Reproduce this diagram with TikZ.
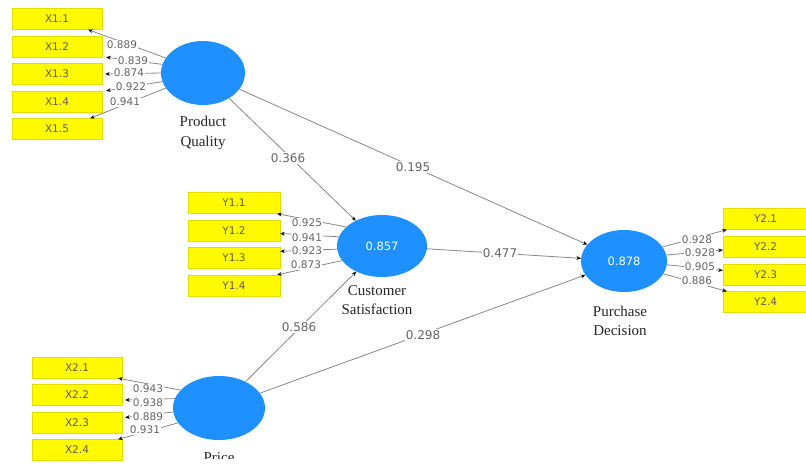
\documentclass[tikz,border=0pt]{standalone}
\usepackage{fontspec}
\setmainfont{Liberation Serif}
\newfontfamily\dv{DejaVu Sans}
\usetikzlibrary{arrows.meta,shapes.geometric}
\definecolor{lvblue}{RGB}{30,144,255}
\definecolor{ind}{RGB}{255,250,0}
\definecolor{indedge}{RGB}{228,222,0}
\definecolor{ln}{RGB}{135,135,135}
\definecolor{lbl}{RGB}{100,100,100}
\definecolor{boxtxt}{RGB}{95,95,70}
\begin{document}
\begin{tikzpicture}[x=1pt,y=-1pt,
 lv/.style={ellipse, fill=lvblue, inner sep=0pt, text=white, font=\dv\fontsize{11.5}{13}\selectfont},
 mv/.style={rectangle, fill=ind, draw=indedge, line width=0.4pt, minimum width=90pt, minimum height=21pt, inner sep=0pt, text=boxtxt, font=\dv\fontsize{10.5}{12}\selectfont},
 con/.style={draw=ln, line width=0.8pt, -{Stealth[length=4.5pt,width=3.8pt,black]}},
 ld/.style={fill=white, inner sep=0.6pt, text=lbl, font=\dv\fontsize{10.5}{12}\selectfont},
 pl/.style={fill=white, inner sep=1.2pt, text=lbl, font=\dv\fontsize{12}{14}\selectfont},
 lvname/.style={align=center, inner sep=0pt, font=\fontsize{15}{19.5}\selectfont, text=black!85}]
\useasboundingbox (0,0) rectangle (806,466);
\clip (0,0) rectangle (806,466);

% latent variables
\node[lv, minimum width=84pt, minimum height=64pt] (pq) at (203,73) {};
\node[lv, minimum width=90pt, minimum height=62pt] (cs) at (382,246) {0.857};
\node[lv, minimum width=92pt, minimum height=64pt] (pr) at (219,408) {};
\node[lv, minimum width=86pt, minimum height=62pt] (pd) at (624,261) {0.878};

\node[lvname] (pqn) at (203,133) {Product\\Quality};
\node[lvname] (csn) at (377,300) {Customer\\Satisfaction};
\node[lvname] (pdn) at (620,321) {Purchase\\Decision};
\begin{scope}
\clip (150,440) rectangle (300,458);
\node[lvname] (prn) at (219,458) {Price};
\end{scope}

% indicators
\node[mv] (x11) at (57,19) {X1.1};
\node[mv] (x12) at (57,46.5) {X1.2};
\node[mv] (x13) at (57,74) {X1.3};
\node[mv] (x14) at (57,101.5) {X1.4};
\node[mv] (x15) at (57,129) {X1.5};

\node[mv, minimum width=92pt] (y11) at (234,203) {Y1.1};
\node[mv, minimum width=92pt] (y12) at (234,230.5) {Y1.2};
\node[mv, minimum width=92pt] (y13) at (234,258) {Y1.3};
\node[mv, minimum width=92pt] (y14) at (234,285.5) {Y1.4};

\node[mv] (x21) at (77,367.5) {X2.1};
\node[mv] (x22) at (77,395) {X2.2};
\node[mv] (x23) at (77,422.5) {X2.3};
\node[mv] (x24) at (77,450) {X2.4};

\node[mv, text width=84pt, align=left] (y21) at (768,219) {\hspace{28pt}Y2.1};
\node[mv, text width=84pt, align=left] (y22) at (768,247) {\hspace{28pt}Y2.2};
\node[mv, text width=84pt, align=left] (y23) at (768,274.5) {\hspace{28pt}Y2.3};
\node[mv, text width=84pt, align=left] (y24) at (768,302) {\hspace{28pt}Y2.4};

% outer loadings
\draw[con] (pq.158) -- ([xshift=-14pt]x11.south east);
\draw[con] (pq.168) -- ([xshift=4pt]x12.south east);
\draw[con] (pq.180) -- ([xshift=3pt]x13.east);
\draw[con] (pq.192) -- ([xshift=4pt]x14.north east);
\draw[con] (pq.202) -- ([xshift=-12pt]x15.north east);

\draw[con] (cs.152) -- ([xshift=-3pt]y11.south east);
\draw[con] (cs.168) -- ([yshift=-3pt]y12.east);
\draw[con] (cs.184) -- ([yshift=-4pt]y13.north east);
\draw[con] (cs.200) -- ([xshift=-3pt]y14.north east);

\draw[con] (pr.155) -- ([xshift=-4pt]x21.south east);
\draw[con] (pr.168) -- ([xshift=3pt,yshift=-5pt]x22.east);
\draw[con] (pr.185) -- ([xshift=3pt,yshift=5pt]x23.east);
\draw[con] (pr.200) -- ([xshift=-4pt]x24.north east);

\draw[con] (pd.20) -- ([xshift=4pt]y21.south west);
\draw[con] (pd.8) -- ([yshift=-3pt]y22.west);
\draw[con] (pd.-5) -- ([yshift=4pt]y23.west);
\draw[con] (pd.-18) -- ([xshift=4pt]y24.north west);

% structural paths
\draw[con] (pq) -- (cs);
\draw[con] (pq) -- (pd);
\draw[con] (cs) -- (pd);
\draw[con] (pr) -- (cs);
\draw[con] (pr) -- (pd);

% loading labels
\node[ld] (a1) at (122,45) {0.889};
\node[ld] (a2) at (133,61) {0.839};
\node[ld] (a3) at (129,73) {0.874};
\node[ld] (a4) at (131,87) {0.922};
\node[ld] (a5) at (125,102) {0.941};

\node[ld] (b1) at (307,223) {0.925};
\node[ld] (b2) at (307,238) {0.941};
\node[ld] (b3) at (307,251) {0.923};
\node[ld] (b4) at (306,265) {0.873};

\node[ld] (c1) at (148,389) {0.943};
\node[ld] (c2) at (148,403) {0.938};
\node[ld] (c3) at (148,417) {0.889};
\node[ld] (c4) at (145,430) {0.931};

\node[ld] (d1) at (697,240) {0.928};
\node[ld] (d2) at (700,253) {0.928};
\node[ld] (d3) at (700,267) {0.905};
\node[ld] (d4) at (697,281) {0.886};

% path coefficients
\node[pl] (p1) at (288,158) {0.366};
\node[pl] (p2) at (413,167) {0.195};
\node[pl] (p3) at (500,253) {0.477};
\node[pl] (p4) at (299,327) {0.586};
\node[pl] (p5) at (423,335) {0.298};
\end{tikzpicture}
\end{document}
